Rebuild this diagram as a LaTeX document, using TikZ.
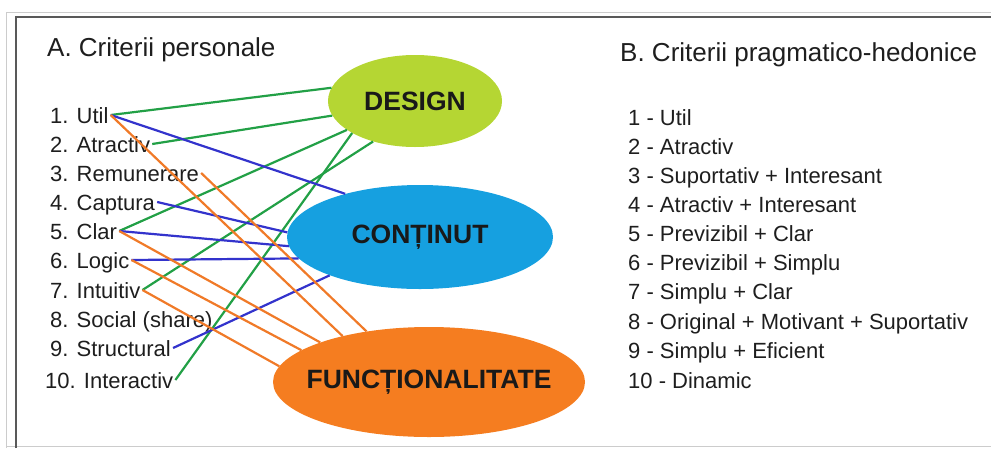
\documentclass[tikz,border=0pt]{standalone}
\usepackage{fontspec}
\setmainfont{Liberation Sans}
\usetikzlibrary{shapes.geometric}

\definecolor{linegreen}{RGB}{34,160,70}
\definecolor{lineblue}{RGB}{51,51,204}
\definecolor{lineorange}{RGB}{240,122,40}
\definecolor{designfill}{RGB}{181,214,51}
\definecolor{continutfill}{RGB}{22,160,224}
\definecolor{functfill}{RGB}{245,125,32}
\definecolor{textgray}{RGB}{30,30,30}

\begin{document}
\begin{tikzpicture}[x = 1pt, y = -1pt,
	criterion/.style = {anchor = west, inner sep = 2pt, text height = 16pt, text depth = 0pt, text = textgray, font = \fontsize{22}{24}\selectfont},
	heading/.style = {anchor = west, inner sep = 0pt, text height = 18pt, text depth = 0pt, text = textgray, font = \fontsize{26}{28}\selectfont},
	category/.style = {ellipse, inner sep = 0pt},
	catlabel/.style = {inner sep = 0pt, text = black!90, font = \fontsize{26.5}{28}\selectfont\bfseries},
	link/.style = {line width = 2.2pt}]

	\useasboundingbox (0, 0) rectangle (991, 448);

	% Window frame

	\draw [black!20, line width = 1pt] (6, 448) -- (6, 12) -- (991, 12);
	\draw [black!20, line width = 1pt] (6, 446.5) -- (991, 446.5);
	\draw [black!65, line width = 2.5pt] (16, 448) -- (16, 17) -- (991, 17);

	% Headings

	\node [heading] (headA) at (47, 47) {A. Criterii personale};
	\node [heading] (headB) at (620, 52) {B. Criterii pragmatico-hedonice};

	% Personal criteria

	\node [criterion] (util) at (48, 115) {1. Util};
	\node [criterion] (atractiv) at (48, 144) {2. Atractiv};
	\node [criterion] (remunerare) at (48, 173) {3. Remunerare};
	\node [criterion] (captura) at (48, 202) {4. Captura};
	\node [criterion] (clar) at (48, 231) {5. Clar};
	\node [criterion] (logic) at (48, 260) {6. Logic};
	\node [criterion] (intuitiv) at (48, 290) {7. Intuitiv};
	\node [criterion] (social) at (48, 319) {8. Social (share)};
	\node [criterion] (structural) at (48, 348) {9. Structural};
	\node [criterion] (interactiv) at (43, 380) {10. Interactiv};

	% Categories

	\node [category, fill = designfill, minimum width = 174pt, minimum height = 92pt] (design) at (415, 101) {};
	\node [catlabel] (designlabel) at (design) {DESIGN};
	\node [category, fill = continutfill, minimum width = 266pt, minimum height = 104pt] (continut) at (420, 237) {};
	\node [catlabel] (continutlabel) at (continut) {CONȚINUT};
	\node [category, fill = functfill, minimum width = 312pt, minimum height = 110pt] (funct) at (429, 382) {};
	\node [catlabel] (functlabel) at (funct) {FUNCȚIONALITATE};

	% Links to design

	\draw [link, linegreen] (util.east) -- (design.171);
	\draw [link, linegreen] (atractiv.east) -- (design.190);
	\draw [link, linegreen] (clar.east) -- (design.203);
	\draw [link, linegreen] (intuitiv.east) -- (design.224);
	\draw [link, linegreen] (interactiv.east) -- (design.207);

	% Links to content

	\draw [link, lineblue] (util.east) -- (continut.150);
	\draw [link, lineblue] (captura.east) -- (continut.178);
	\draw [link, lineblue] (clar.east) -- (continut.184);
	\draw [link, lineblue] (logic.east) -- (continut.190);
	\draw [link, lineblue] (structural.east) -- (continut.203);

	% Links to functionality

	\draw [link, lineorange] (util.east) -- (funct.152);
	\draw [link, lineorange] (remunerare.east) -- (funct.141);
	\draw [link, lineorange] (clar.east) -- (funct.160);
	\draw [link, lineorange] (logic.east) -- (funct.166);
	\draw [link, lineorange] (intuitiv.east) -- (funct.174);

	% Pragmatic-hedonic criteria

	\node [criterion] (b1) at (626, 117) {1 - Util};
	\node [criterion] (b2) at (626, 146) {2 - Atractiv};
	\node [criterion] (b3) at (626, 175) {3 - Suportativ + Interesant};
	\node [criterion] (b4) at (626, 204) {4 - Atractiv + Interesant};
	\node [criterion] (b5) at (626, 233) {5 - Previzibil + Clar};
	\node [criterion] (b6) at (626, 262) {6 - Previzibil + Simplu};
	\node [criterion] (b7) at (626, 291) {7 - Simplu + Clar};
	\node [criterion] (b8) at (626, 321) {8 - Original + Motivant + Suportativ};
	\node [criterion] (b9) at (626, 350) {9 - Simplu + Eficient};
	\node [criterion] (b10) at (626, 380) {10 - Dinamic};

\end{tikzpicture}
\end{document}
